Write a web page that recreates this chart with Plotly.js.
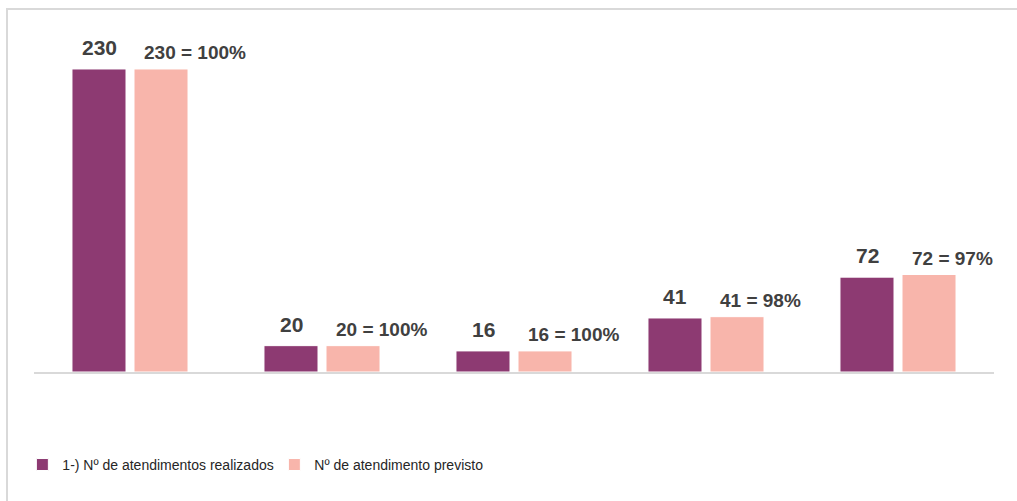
<!DOCTYPE html>
<html>
<head>
<meta charset="utf-8">
<script src="https://cdn.plot.ly/plotly-3.0.1.min.js"></script>
<style>
  body { margin: 0; background: #fff; }
  #wrap { position: relative; width: 1017px; height: 501px; overflow: hidden; }
  #chart { width: 1017px; height: 501px; }
  #frame { position: absolute; left: 6px; top: 8px; width: 1100px; height: 600px;
           border: 2px solid #d9d9d9; pointer-events: none; }
</style>
</head>
<body>
<div id="wrap"><div id="chart"></div><div id="frame"></div></div>
<script>
// atendimentos realizados x previstos
var categorias = ['Grupo 1', 'Grupo 2', 'Grupo 3', 'Grupo 4', 'Grupo 5'];
var realizados = [230, 20, 16, 41, 72];
var previstos = [230, 20, 16, 42, 74];
var rotulosRealizados = ['230', '20', '16', '41', '72'];
var rotulosPrevistos = ['230 = 100%', '20 = 100%', '16 = 100%', '41 = 98%', '72 = 97%'];

var traceRealizados = {
    x: categorias,
    y: realizados,
    type: 'bar',
    name: '1-) Nº de atendimentos realizados',
    marker: {color: '#8d3a72', line: {color: '#ffffff', width: 1}},
    hoverinfo: 'y'
};

var tracePrevistos = {
    x: categorias,
    y: previstos,
    type: 'bar',
    name: 'Nº de atendimento previsto',
    marker: {color: '#f8b5ab', line: {color: '#ffffff', width: 1}},
    hoverinfo: 'y'
};

var annotations = [];
categorias.forEach(function(c, i) {
    annotations.push({
        x: c, y: realizados[i], xref: 'x', yref: 'y',
        text: rotulosRealizados[i], showarrow: false,
        xanchor: 'center', yanchor: 'bottom', xshift: -31, yshift: 8,
        font: {family: 'Liberation Sans, Arial, sans-serif', size: 21, color: '#404040', weight: 'bold'}
    });
    annotations.push({
        x: c, y: previstos[i], xref: 'x', yref: 'y',
        text: rotulosPrevistos[i], showarrow: false,
        xanchor: 'left', yanchor: 'bottom', xshift: 12, yshift: 4,
        font: {family: 'Liberation Sans, Arial, sans-serif', size: 19, color: '#404040', weight: 'bold'}
    });
});

var layout = {
    width: 1017,
    height: 501,
    margin: {l: 34, r: 23, t: 40, b: 129},
    paper_bgcolor: '#ffffff',
    plot_bgcolor: '#ffffff',
    barmode: 'group',
    bargap: 0.354,
    bargroupgap: 0.129,
    showlegend: true,
    legend: {
        orientation: 'h',
        xref: 'container', yref: 'container',
        x: 0.022, y: 0.072, xanchor: 'left', yanchor: 'middle',
        entrywidth: 207,
        font: {family: 'Liberation Sans, Arial, sans-serif', size: 14, color: '#262626'}
    },
    xaxis: {
        range: [-0.5, 4.5], fixedrange: true,
        showline: true, linecolor: '#d9d9d9', linewidth: 2,
        showticklabels: false, ticks: '', showgrid: false, zeroline: false
    },
    yaxis: {
        range: [0, 252], fixedrange: true,
        showline: false, showticklabels: false, ticks: '', showgrid: false, zeroline: false
    },
    annotations: annotations
};

Plotly.newPlot('chart', [traceRealizados, tracePrevistos], layout, {displayModeBar: false});
</script>
</body>
</html>
